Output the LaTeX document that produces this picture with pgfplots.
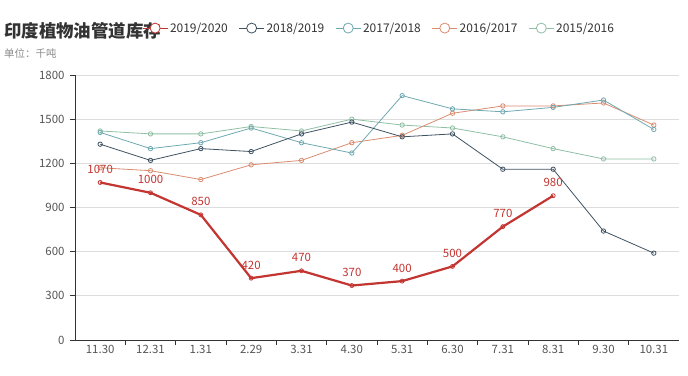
\documentclass[border=0pt]{standalone}
\usepackage{fontspec}
\setmainfont{Noto Sans CJK SC}
\usepackage{pgfplots}
\pgfplotsset{compat=1.18}
\definecolor{cA}{HTML}{C23531}
\definecolor{cB}{HTML}{3F5262}
\definecolor{cC}{HTML}{6FA9B0}
\definecolor{cD}{HTML}{DA8C70}
\definecolor{cE}{HTML}{8FBFA4}
\definecolor{axc}{HTML}{333333}
\definecolor{gridc}{HTML}{DDDDDD}
\definecolor{labc}{HTML}{555555}
\begin{document}
\begin{tikzpicture}
\path[use as bounding box] (0bp,0bp) rectangle (688bp,376bp);
\node[anchor=west, inner sep=0pt, font=\fontsize{17.5}{20}\selectfont\bfseries, text=black!80] at (4bp,345bp) {印度植物油管道库存};
\node[anchor=west, inner sep=0pt, font=\fontsize{10.5}{12}\selectfont, text=black!45] at (4bp,323bp) {单位：千吨};
\begin{axis}[
  at={(75bp,36bp)}, anchor=south west, scale only axis,
  width=604bp, height=265bp,
  xmin=-0.5, xmax=11.5, ymin=0, ymax=1800,
  ytick={0,300,...,1800},
  xtick={0.5,1.5,...,10.5}, xticklabels={},
  extra x ticks={0,...,11},
  extra x tick labels={11.30,12.31,1.31,2.29,3.31,4.30,5.31,6.30,7.31,8.31,9.30,10.31},
  extra x tick style={major tick length=0pt, grid=none},
  axis x line*=bottom, axis y line*=left,
  axis line style={draw=axc, line width=0.8bp, -},
  tick align=outside, major tick length=5bp,
  tick style={draw=axc, line width=0.8bp},
  ymajorgrids, grid style={draw=gridc, line width=0.8bp},
  tick label style={font=\fontsize{11.5}{13}\selectfont, text=labc},
  /pgf/number format/assume math mode=true,
  /pgf/number format/1000 sep={},
  yticklabel style={xshift=-2bp},
  xticklabel style={yshift=-2bp},
  legend columns=5,
  legend style={at={(rel axis cs:0.106,1.177)}, anchor=west, draw=none, fill=none,
    font=\fontsize{12}{13}\selectfont, text=axc,
    /tikz/every odd column/.append style={column sep=0bp},
    /tikz/every even column/.append style={column sep=9bp}},
  legend image code/.code={\draw[#1] (0bp,0bp) -- (25bp,0bp); \draw[#1, fill=white] (12.5bp,0bp) circle (5bp);},
  clip=false,
]
\addlegendimage{cA, line width=0.8bp}
\addlegendentry{2019/2020}
\addlegendimage{cB, line width=0.8bp}
\addlegendentry{2018/2019}
\addlegendimage{cC, line width=0.8bp}
\addlegendentry{2017/2018}
\addlegendimage{cD, line width=0.8bp}
\addlegendentry{2016/2017}
\addlegendimage{cE, line width=0.8bp}
\addlegendentry{2015/2016}

\addplot[forget plot, cE, line width=0.8bp, mark=o, mark size=2.2bp, mark options={fill=white}] coordinates {
(0,1420) (1,1400) (2,1400) (3,1450) (4,1420) (5,1500) (6,1460) (7,1440) (8,1380) (9,1300) (10,1230) (11,1230)};
\addplot[forget plot, cD, line width=0.8bp, mark=o, mark size=2.2bp, mark options={fill=white}] coordinates {
(0,1170) (1,1150) (2,1090) (3,1190) (4,1220) (5,1340) (6,1390) (7,1540) (8,1590) (9,1590) (10,1610) (11,1460)};
\addplot[forget plot, cC, line width=0.8bp, mark=o, mark size=2.2bp, mark options={fill=white}] coordinates {
(0,1410) (1,1300) (2,1340) (3,1440) (4,1340) (5,1270) (6,1660) (7,1570) (8,1550) (9,1580) (10,1630) (11,1430)};
\addplot[forget plot, cB, line width=0.8bp, mark=o, mark size=2.2bp, mark options={fill=white}] coordinates {
(0,1330) (1,1220) (2,1300) (3,1280) (4,1400) (5,1480) (6,1380) (7,1400) (8,1160) (9,1160) (10,740) (11,590)};
\addplot[forget plot, cA, line width=2.2bp, mark=o, mark size=2bp, mark options={fill=white, line width=0.8bp},
  nodes near coords, every node near coord/.append style={font=\fontsize{11.5}{13}\selectfont, text=cA, yshift=5bp, /pgf/number format/1000 sep={}}] coordinates {
(0,1070) (1,1000) (2,850) (3,420) (4,470) (5,370) (6,400) (7,500) (8,770) (9,980)};
\end{axis}
\end{tikzpicture}
\end{document}
